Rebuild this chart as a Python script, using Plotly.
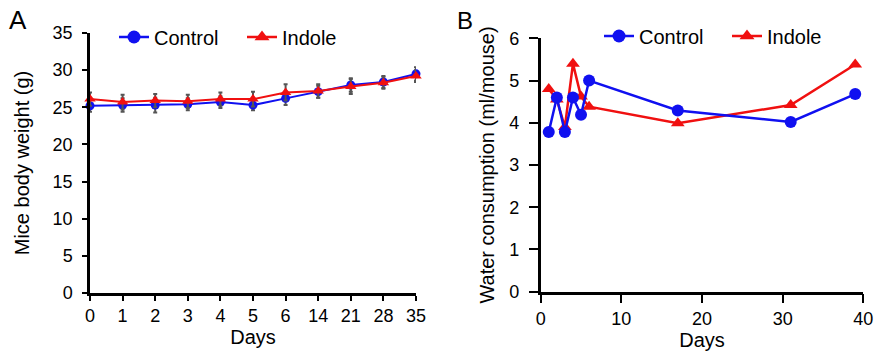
import plotly.graph_objects as go

# ---- Data ----
days_a = ["0", "1", "2", "3", "4", "5", "6", "14", "21", "28", "35"]
weight_control = [25.2, 25.3, 25.3, 25.4, 25.7, 25.3, 26.2, 27.1, 28.0, 28.4, 29.5]
weight_indole = [26.1, 25.7, 25.9, 25.8, 26.1, 26.1, 27.0, 27.2, 27.8, 28.3, 29.2]
weight_control_sd = [0.8, 0.9, 1.0, 0.8, 0.8, 0.7, 0.9, 0.8, 0.9, 0.8, 0.9]
weight_indole_sd = [0.9, 1.0, 0.9, 0.9, 0.9, 1.0, 1.1, 0.9, 1.0, 0.8, 0.8]

days_b = [1, 2, 3, 4, 5, 6, 17, 31, 39]
water_control = [3.78, 4.6, 3.78, 4.6, 4.19, 5.0, 4.29, 4.02, 4.68]
water_indole = [4.8, 4.55, 3.9, 5.4, 4.62, 4.38, 3.99, 4.42, 5.38]

series_names = ["Control", "Indole"]

BLUE = "#1010f0"
RED = "#f01010"
FONT = "Liberation Sans, Arial, sans-serif"

# the page body margin is removed in post_script, so window pixels == figure pixels
OFF = 0
W, H = 876, 355


def px(x):
    return (x - OFF) / W


def py(y):
    return (H - (y - OFF)) / H


fig = go.Figure()

idx = list(range(len(days_a)))
fig.add_trace(go.Scatter(
    x=idx, y=weight_control, mode="lines+markers", name=series_names[0], showlegend=False,
    line=dict(color=BLUE, width=2), marker=dict(symbol="circle", size=9, color=BLUE),
    error_y=dict(type="data", array=weight_control_sd, color="#555555", thickness=2, width=2),
    cliponaxis=False, xaxis="x", yaxis="y"))
fig.add_trace(go.Scatter(
    x=idx, y=weight_indole, mode="lines+markers", name=series_names[1], showlegend=False,
    line=dict(color=RED, width=2), marker=dict(symbol="triangle-up", size=10, color=RED),
    error_y=dict(type="data", array=weight_indole_sd, color="#555555", thickness=2, width=2),
    cliponaxis=False, xaxis="x", yaxis="y"))

fig.add_trace(go.Scatter(
    x=days_b, y=water_indole, mode="lines+markers", name=series_names[1], showlegend=False,
    line=dict(color=RED, width=2.5), marker=dict(symbol="triangle-up", size=12, color=RED),
    cliponaxis=False, xaxis="x2", yaxis="y2"))
fig.add_trace(go.Scatter(
    x=days_b, y=water_control, mode="lines+markers", name=series_names[0], showlegend=False,
    line=dict(color=BLUE, width=2.5), marker=dict(symbol="circle", size=12, color=BLUE),
    cliponaxis=False, xaxis="x2", yaxis="y2"))

# legend entries (larger symbols, as in the reference legend)
for leg, xa, ya in (("legend", "x", "y"), ("legend2", "x2", "y2")):
    fig.add_trace(go.Scatter(
        x=[None], y=[None], mode="lines+markers", name=series_names[0], legend=leg,
        line=dict(color=BLUE, width=2.5), marker=dict(symbol="circle", size=13, color=BLUE),
        xaxis=xa, yaxis=ya))
    fig.add_trace(go.Scatter(
        x=[None], y=[None], mode="lines+markers", name=series_names[1], legend=leg,
        line=dict(color=RED, width=2.5), marker=dict(symbol="triangle-up", size=13, color=RED),
        xaxis=xa, yaxis=ya))

axis_common = dict(showline=True, linecolor="black", linewidth=2.5, ticks="outside",
                   tickcolor="black", tickwidth=2, showgrid=False, zeroline=False,
                   automargin=False,
                   tickfont=dict(size=18, color="black", family=FONT))
title_font = dict(size=20, color="black", family=FONT)

fig.update_layout(
    width=W, height=H, margin=dict(l=0, r=0, t=0, b=0, autoexpand=False),
    paper_bgcolor="white", plot_bgcolor="white",
    font=dict(family=FONT, color="black"),
    xaxis=dict(domain=[px(90), px(416)], range=[0, 10], tickvals=idx, ticktext=days_a,
               ticklen=5, title=dict(text="Days", font=title_font, standoff=0),
               anchor="y", **axis_common),
    yaxis=dict(domain=[py(293), py(33)], range=[0, 35], dtick=5,
               ticklen=5, ticklabelstandoff=6,
               title=dict(text="Mice body weight (g)", font=title_font, standoff=18),
               anchor="x", **axis_common),
    xaxis2=dict(domain=[px(540.7), px(863.3)], range=[0, 40], dtick=10,
                ticklen=9, title=dict(text="Days", font=title_font, standoff=2),
                anchor="y2", **axis_common),
    yaxis2=dict(domain=[py(291.7), py(38.3)], range=[0, 6], dtick=1,
                ticklen=9, ticklabelstandoff=6,
                title=dict(text="Water consumption (ml/mouse)", font=title_font, standoff=10),
                anchor="x2", **axis_common),
    legend=dict(orientation="h", x=px(114), xanchor="left", y=py(37), yanchor="middle",
                font=dict(size=20, family=FONT, color="black"), bgcolor="rgba(0,0,0,0)",
                entrywidth=83, traceorder="normal"),
    legend2=dict(orientation="h", x=px(599), xanchor="left", y=py(36), yanchor="middle",
                 font=dict(size=20, family=FONT, color="black"), bgcolor="rgba(0,0,0,0)",
                 entrywidth=83, traceorder="normal"),
    annotations=[
        dict(text="A", x=px(18), y=py(20), xref="paper", yref="paper",
             showarrow=False, font=dict(size=26, family=FONT, color="black"),
             xanchor="center", yanchor="middle"),
        dict(text="B", x=px(465), y=py(20), xref="paper", yref="paper",
             showarrow=False, font=dict(size=24, family=FONT, color="black"),
             xanchor="center", yanchor="middle"),
    ],
)

fig.write_html(
    "out.html",
    config={"displayModeBar": False},
    post_script=("document.body.style.margin='0';"
                 "document.documentElement.style.overflow='hidden';"
                 "document.body.style.overflow='hidden';"),
)
